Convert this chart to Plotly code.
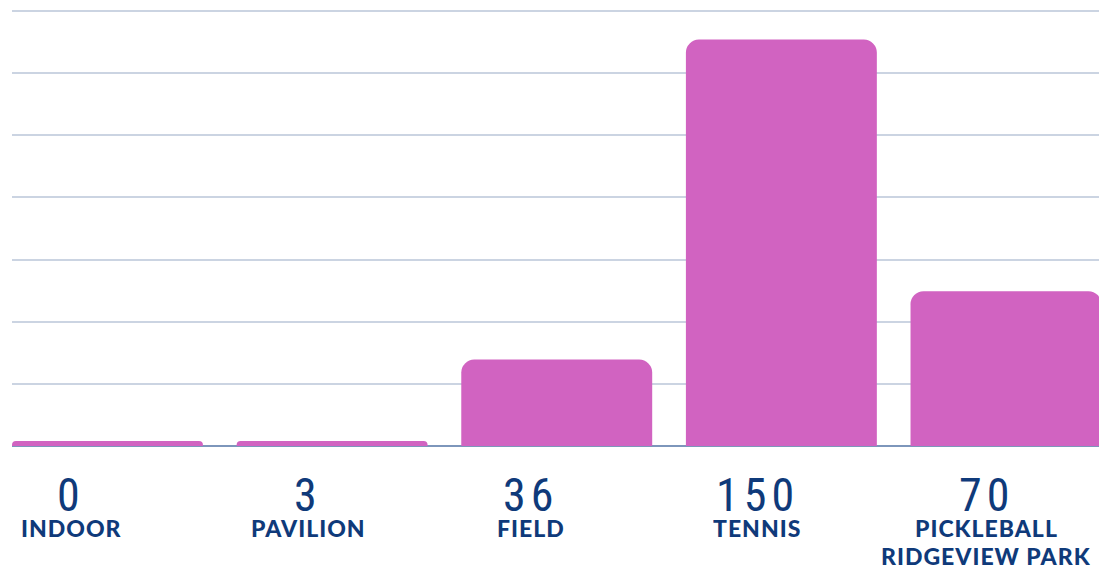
import plotly.graph_objects as go

# ---- data ----
categories = ["INDOOR", "PAVILION", "FIELD", "TENNIS", "PICKLEBALL<br>RIDGEVIEW PARK"]
counts = [0, 3, 36, 150, 70]                 # numbers printed under each bar
bar_heights = [0.08, 0.08, 1.39, 6.54, 2.49]  # bar heights as drawn (grid units)

# ---- layout helpers (positions / styles) ----
label_xshift = [-36, -24, -26, -24, -20]
BAR = "#d163c1"
NAVY = "#0f3a7a"
GRID = "#cbd4e2"
BASE = "#7d96bb"

x = list(range(len(categories)))

fig = go.Figure()
fig.add_trace(go.Bar(
    x=x, y=bar_heights, marker=dict(color=BAR, line=dict(width=0)),
    width=0.85, hoverinfo="skip",
))

ann = []
for i, (c, n) in enumerate(zip(categories, counts)):
    ann.append(dict(
        x=i, xref="x", y=0, yref="y", yshift=-49, xshift=label_xshift[i],
        text='<span style="letter-spacing:5px">' + str(n) + '</span>',
        showarrow=False, yanchor="middle", height=40, valign="middle",
        font=dict(family="Roboto Condensed, sans-serif", size=46, color=NAVY, weight=400),
    ))
    for k, line in enumerate(c.split("<br>")):
        ann.append(dict(
            x=i, xref="x", y=0, yref="y", yshift=-82 - 28 * k, xshift=label_xshift[i],
            text='<span style="letter-spacing:1px">' + line + '</span>',
            showarrow=False, yanchor="middle", height=20, valign="middle",
            font=dict(family="Lato, sans-serif", size=23, color=NAVY, weight=900),
        ))

fig.update_layout(
    width=1099, height=567,
    margin=dict(l=12, r=0, t=0, b=121),
    paper_bgcolor="white", plot_bgcolor="white",
    barcornerradius=13,
    showlegend=False,
    annotations=ann,
    xaxis=dict(range=[-0.425, 4.414], showgrid=False, showticklabels=False,
               zeroline=False, showline=False, ticks="", fixedrange=True),
    yaxis=dict(range=[0, 7.177], dtick=1, tick0=0, showgrid=True, gridcolor=GRID,
               gridwidth=2, showticklabels=False, zeroline=True,
               zerolinecolor=BASE, zerolinewidth=2, showline=False, ticks="",
               fixedrange=True),
)

fig.write_html("out.html", config={"displayModeBar": False},
               post_script="document.body.style.margin='0px';")
